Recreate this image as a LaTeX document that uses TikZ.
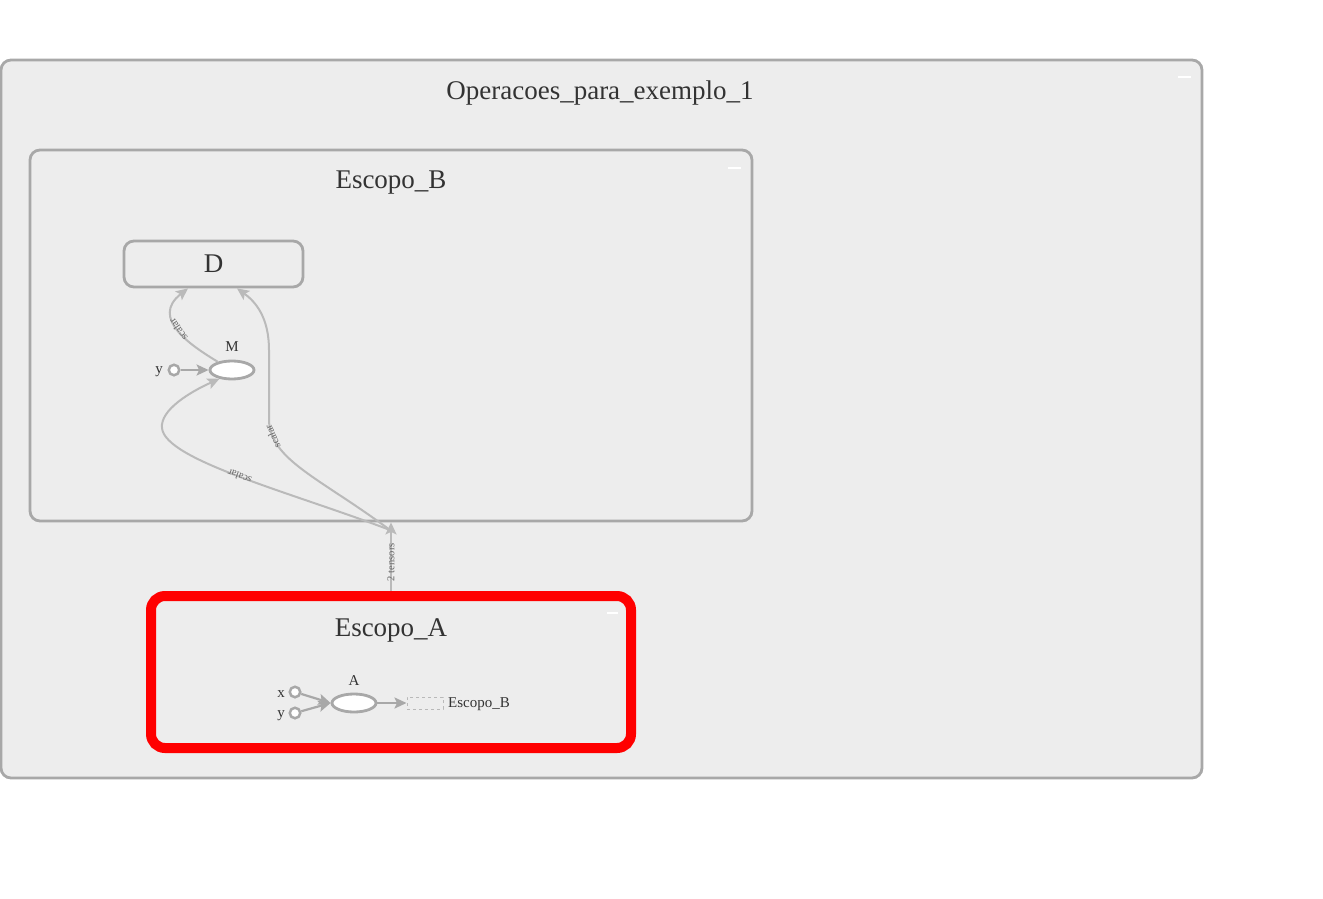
\documentclass[tikz,border=0pt]{standalone}
\usepackage{fontspec}
\setmainfont{Liberation Serif}
\usetikzlibrary{shapes.geometric,arrows.meta,calc}
\definecolor{boxfill}{HTML}{EDEDED}
\definecolor{boxline}{HTML}{A8A8A8}
\definecolor{edgec}{HTML}{BABABA}
\definecolor{txt}{HTML}{333333}
\definecolor{lbl}{HTML}{666666}
\begin{document}
\begin{tikzpicture}[x=1pt,y=-1pt,
  group/.style={draw=boxline, fill=boxfill, line width=2.8pt, rounded corners=10pt, inner sep=0pt},
  grouptitle/.style={text=txt, font=\fontsize{27}{31}\selectfont},
  opnode/.style={ellipse, draw=boxline, fill=white, line width=2.8pt, minimum width=44pt, minimum height=18pt, inner sep=0pt},
  inp/.style={circle, draw=boxline, fill=white, line width=2.5pt, minimum size=10.5pt, inner sep=0pt},
  small/.style={text=txt, font=\fontsize{15}{17}\selectfont, inner sep=0pt},
  edge/.style={draw=edgec, line width=2pt, -{Stealth[length=12pt,width=11pt,inset=2.5pt]}},
  inedge/.style={draw=boxline, line width=2.2pt, -{Stealth[length=12pt,width=11pt,inset=2.5pt]}},
  elabel/.style={text=lbl, font=\fontsize{10.5}{11}\selectfont, sloped, allow upside down, inner sep=0pt},
  minus/.style={draw=white, line width=2.8pt}
]
\useasboundingbox (0,0) rectangle (1323,899);
\fill[white] (0,0) rectangle (1323,899);

% outer group
\node[group, minimum width=1201pt, minimum height=718pt] (outer) at (601.5,419) {};
\node[grouptitle] (outertitle) at (600,93) {Operacoes\_para\_exemplo\_1};
\draw[minus] (1178,77) -- (1191,77);

% Escopo_B
\node[group, minimum width=722pt, minimum height=371pt] (scB) at (391,335.5) {};
\node[grouptitle] (scBtitle) at (391,183) {Escopo\_B};
\draw[minus] (728,168) -- (741,168);

\node[group, minimum width=179pt, minimum height=46pt, grouptitle] (D) at (213.5,264) {D};
\node[opnode] (M) at (232,370) {};
\node[small] (Mlab) at (232,347) {M};
\node[inp] (yM) at (174,370) {};
\node[small, anchor=east] (yMlab) at (163,372) {y};
\draw[inedge] (yM) -- (M);

% Escopo_A
\node[draw=red, fill=boxfill, line width=10pt, rounded corners=14pt, minimum width=480pt, minimum height=152pt, inner sep=0pt] (scA) at (391,672) {};
\node[grouptitle] (scAtitle) at (391,630) {Escopo\_A};
\draw[minus] (607,613) -- (618,613);

\node[opnode] (A) at (354,703) {};
\node[small] (Alab) at (354,681) {A};
\node[inp] (x) at (295,692) {};
\node[inp] (y) at (295,713) {};
\node[small, anchor=east] (xlab) at (285,694) {x};
\node[small, anchor=east] (ylab) at (285,716) {y};
\node[draw=boxline!80, dashed, line width=1pt, minimum width=36pt, minimum height=12pt, inner sep=0pt] (bref) at (425,703) {};
\node[small, anchor=west] (breflab) at (448,704) {Escopo\_B};
\draw[inedge] (x) -- (A.180);
\draw[inedge] (y) -- (A.180);
\draw[inedge] (A) -- (bref);

% connection between groups
\draw[edge] (scA.north) -- node[elabel, pos=0.42] {2 tensors} (scB.south);

\coordinate (src) at (390,530);
% scalar edges
\draw[edge] (M.150) .. controls (190,345) and (150,318) .. node[elabel, pos=0.5] {scalar} ($(D.south)+(-25.5,0)$);
\draw[edge] (src) .. controls (320,478) and (270,460) .. node[elabel, pos=0.85] {scalar} (269,420)
  -- (269,350) .. controls (269,318) and (256,302) .. ($(D.south)+(23.5,0)$);
\draw[edge] (src) .. controls (290,492) and (165,460) .. node[elabel, pos=0.5] {scalar} (162,428)
  .. controls (160,410) and (190,392) .. (M.215);
\end{tikzpicture}
\end{document}
